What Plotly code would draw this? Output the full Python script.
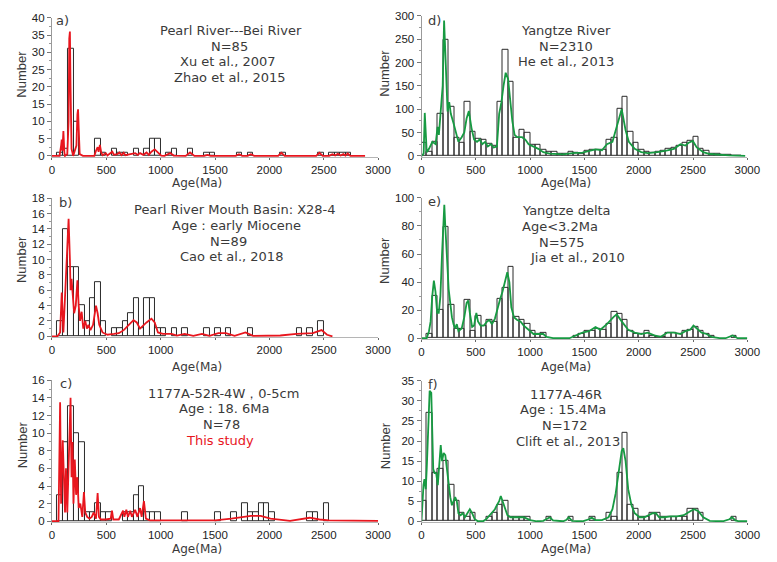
import plotly.graph_objects as go

W, H = 777, 562

# ---------------- histogram counts (50 Ma bins, value = bin left edge) ----------------
a_bins = [50, 100, 150, 200, 400, 450, 550, 600, 650, 750, 850, 900, 950, 1050, 1100,
          1250, 1400, 1450, 1700, 1800, 2100, 2450, 2550, 2600, 2650, 2700]
a_counts = [1, 2, 31, 10, 5, 1, 2, 1, 1, 2, 2, 5, 5, 1, 2, 2, 1, 1, 1, 1, 1, 1, 1, 1, 1, 1]

d_bins = [0, 50, 100, 150, 200, 250, 300, 350, 400, 450, 500, 550, 600, 650, 700, 750, 800,
          850, 900, 950, 1000, 1050, 1100, 1150, 1200, 1250, 1300, 1350, 1400, 1450, 1500,
          1550, 1600, 1650, 1700, 1750, 1800, 1850, 1900, 1950, 2000, 2050, 2100, 2150, 2200,
          2250, 2300, 2350, 2400, 2450, 2500, 2550, 2600, 2650, 2700, 2750, 2800, 2850, 2900]
d_counts = [27, 9, 30, 90, 249, 105, 39, 28, 115, 51, 36, 34, 26, 22, 115, 227, 159,
            39, 56, 50, 24, 24, 12, 8, 8, 5, 4, 8, 7, 5, 10,
            14, 14, 14, 34, 38, 101, 126, 52, 27, 13, 9, 7, 8, 10,
            15, 17, 22, 29, 33, 40, 15, 10, 5, 4, 3, 3, 1, 1]

b_bins = [50, 100, 150, 200, 250, 300, 350, 400, 450, 550, 600, 650, 700, 750, 800, 850, 900,
          950, 1000, 1100, 1200, 1400, 1500, 1600, 1800, 2250, 2350, 2450]
b_counts = [2, 14, 9, 9, 4, 2, 5, 7, 2, 1, 1, 2, 3, 5, 1, 5, 5, 1, 1, 1, 1, 1, 1, 1, 1, 1, 1, 2]

e_bins = [50, 100, 150, 200, 250, 300, 350, 400, 450, 500, 550, 600, 650, 700, 750, 800, 850,
          900, 950, 1000, 1050, 1100,
          1400, 1450, 1500, 1550, 1600, 1650, 1700, 1750, 1800, 1850, 1900, 1950, 2000, 2050,
          2100, 2150, 2200, 2250, 2300, 2350, 2400, 2450, 2500, 2550, 2600, 2650, 2850]
e_counts = [3, 30, 20, 79, 24, 7, 7, 27, 5, 16, 9, 13, 12, 28, 36, 51, 15,
            13, 10, 5, 3, 4,
            2, 3, 5, 5, 7, 6, 10, 19, 17, 13, 5, 3, 3, 5,
            2, 1, 1, 4, 4, 3, 5, 6, 8, 5, 3, 2, 2]

c_bins = [50, 100, 150, 200, 250, 300, 350, 400, 450, 500, 650, 700, 750, 800, 850, 900, 950,
          1200, 1500, 1650, 1750, 1800, 1850, 1900, 1950, 2000, 2350, 2400, 2500]
c_counts = [3, 9, 13, 10, 9, 1, 1, 2, 1, 1, 1, 1, 3, 4, 1, 1, 1,
            1, 1, 1, 2, 1, 1, 2, 2, 1, 1, 1, 2]

f_bins = [0, 50, 100, 150, 200, 250, 300, 350, 400, 450, 600, 650, 700, 750, 800, 850, 900, 950,
          1150, 1350, 1550, 1700, 1750, 1800, 1850, 1900, 1950, 2000, 2050, 2100, 2150, 2200,
          2250, 2300, 2350, 2400, 2450, 2500, 2550, 2850]
f_counts = [5, 27, 12, 13, 15, 9, 5, 2, 1, 2, 1, 2, 4, 5, 1, 1, 1, 1,
            1, 1, 1, 2, 1, 12, 22, 4, 3, 1, 1, 2, 2, 1,
            1, 1, 1, 1, 3, 3, 2, 1]

# ---------------- probability density curves (age Ma, scaled value) ----------------
a_density = [(0, 0), (70, 0), (84, 3), (90, 4.7), (96, 1.5), (105, 7.2), (114, 1), (120, 0),
             (141, 0.5), (153, 10), (159, 34), (165, 36), (171, 20), (174, 11), (180, 2),
             (195, 0), (225, 3), (234, 12), (240, 13.5), (246, 8), (255, 0.5), (285, 0),
             (390, 0), (405, 1.5), (420, 2.5), (429, 1.2), (441, 3.2), (453, 1), (465, 0.2),
             (495, 0.8), (510, 0.1), (555, 1.2), (570, 0.3), (600, 0.5), (621, 1), (639, 0.2),
             (660, 0.9), (675, 0.2), (765, 0.8), (789, 0.3), (810, 0.8), (840, 0.3), (870, 1),
             (891, 0.3), (915, 1.2), (945, 1.9), (975, 1), (1005, 0.1), (1035, 0), (1065, 0.5),
             (1089, 0.8), (1119, 0.1), (1230, 0), (1270, 1), (1310, 0), (1400, 0), (1430, 0.3),
             (1460, 0), (1690, 0), (1720, 0.5), (1750, 0), (1800, 0), (1830, 0.5), (1860, 0),
             (2080, 0), (2110, 0.9), (2140, 0), (2430, 0), (2460, 0.9), (2490, 0), (2550, 0),
             (2580, 0.5), (2605, 0.1), (2630, 0.6), (2655, 0.1), (2680, 0.5), (2700, 0.1),
             (2720, 0.7), (2745, 0), (2880, 0)]

d_density = [(0, 0), (20, 5), (30, 92), (40, 20), (48, 8), (69, 15), (100, 30), (130, 25),
             (148, 62), (160, 45), (172, 80), (195, 150), (208, 290), (222, 205), (240, 95),
             (255, 115), (270, 90), (295, 70), (320, 45), (340, 30), (370, 40), (394, 50),
             (415, 80), (436, 96), (460, 60), (484, 35), (511, 30), (535, 35), (560, 25),
             (586, 30), (610, 20), (640, 25), (664, 18), (694, 20), (715, 90), (736, 115),
             (755, 150), (775, 178), (797, 165), (815, 120), (836, 75), (857, 45), (881, 40),
             (926, 40), (956, 35), (986, 25), (1031, 20), (1076, 15), (1121, 8), (1181, 5),
             (1302, 3), (1392, 6), (1482, 7), (1542, 10), (1602, 14), (1662, 12), (1707, 25),
             (1758, 30), (1797, 65), (1843, 100), (1879, 55), (1909, 30), (1963, 15), (2023, 8),
             (2083, 6), (2173, 8), (2264, 12), (2324, 15), (2384, 25), (2429, 22), (2459, 28),
             (2498, 32), (2534, 18), (2594, 8), (2654, 4), (2744, 2), (2834, 1), (2980, 0)]

b_density = [(0, 0), (50, 0), (75, 0.5), (90, 5.7), (105, 0.5), (126, 8), (144, 13), (153, 15.3),
             (165, 10), (171, 6), (180, 7.5), (195, 5), (204, 3), (219, 4), (234, 7.3), (246, 4),
             (258, 2), (273, 3.2), (288, 1), (306, 2), (321, 1), (336, 1.5), (354, 0.8),
             (378, 1.5), (393, 3), (405, 4), (420, 3), (435, 1.5), (465, 0.5), (510, 0.2),
             (570, 0.3), (615, 0.4), (660, 0.8), (705, 1.5), (750, 2.1), (780, 1.8), (810, 1),
             (870, 1.8), (915, 2.3), (945, 1.8), (975, 0.5), (1020, 0.3), (1060, 0.3),
             (1100, 0.3), (1150, 0.1), (1220, 0.3), (1300, 0.05), (1380, 0.3), (1450, 0.05),
             (1530, 0.4), (1600, 0.4), (1680, 0.05), (1780, 0.5), (1850, 0.05), (2100, 0.1),
             (2250, 0.3), (2400, 0.4), (2480, 0.8), (2530, 0.2), (2580, 0)]

e_density = [(0, 0), (48, 0), (69, 5), (84, 12), (99, 30), (114, 41), (129, 33), (144, 18),
             (159, 18), (174, 30), (189, 60), (204, 85), (210, 95), (219, 80), (234, 55),
             (250, 35), (265, 25), (280, 15), (295, 10), (310, 7), (325, 10), (340, 5), (370, 7),
             (394, 15), (415, 25), (430, 27), (445, 18), (466, 8), (484, 9), (505, 18), (520, 12),
             (544, 9), (574, 9), (604, 12), (625, 13), (649, 10), (676, 14), (700, 22), (724, 28),
             (745, 33), (775, 43), (790, 47), (809, 40), (827, 22), (851, 15), (881, 13),
             (911, 12), (941, 9), (986, 6), (1031, 3), (1076, 3), (1121, 3), (1151, 1), (1211, 0),
             (1362, 0), (1422, 2), (1482, 4), (1542, 5), (1602, 8), (1647, 6), (1707, 10),
             (1767, 15), (1797, 17), (1843, 12), (1903, 6), (1963, 4), (2023, 3), (2083, 4),
             (2143, 2), (2203, 1), (2264, 4), (2324, 4), (2384, 3), (2429, 5), (2474, 6),
             (2504, 9), (2534, 7), (2579, 4), (2624, 3), (2669, 1), (2744, 0), (2800, 0),
             (2865, 2), (2910, 0), (3000, 0)]

c_density = [(0, 0), (60, 0), (75, 13.5), (84, 2), (99, 9.2), (111, 3), (120, 1), (129, 6),
             (141, 1), (150, 5), (162, 11), (171, 14), (180, 5), (189, 9), (198, 2), (210, 7),
             (222, 3), (234, 5), (246, 1.5), (261, 2), (279, 0.5), (294, 3.3), (306, 1),
             (324, 0.5), (345, 0.3), (366, 0.5), (384, 1), (405, 0.3), (420, 3.2), (432, 0.5),
             (450, 0.2), (495, 0.2), (540, 0.3), (552, 1.2), (564, 0.2), (615, 0.2), (654, 1.2),
             (666, 0.5), (684, 1.3), (699, 0.5), (720, 1.2), (735, 0.5), (765, 1.3), (786, 0.5),
             (810, 1.5), (825, 0.5), (846, 2.3), (864, 0.3), (900, 0.1), (990, 0.1), (1200, 0.1),
             (1350, 0.1), (1500, 0.1), (1650, 0.3), (1750, 0.5), (1830, 0.6), (1920, 0.6),
             (2010, 0.3), (2190, 0.05), (2370, 0.4), (2460, 0.2), (2550, 0.1), (3000, 0.05)]

f_density = [(0, 0), (9, 5), (18, 9), (27, 10.5), (39, 8), (48, 13), (63, 25), (75, 32.5),
             (90, 32), (99, 22), (108, 13), (120, 12), (135, 12), (150, 9), (165, 15), (177, 19),
             (189, 15), (204, 17), (219, 16.5), (234, 13), (250, 9), (265, 6), (280, 4), (295, 5),
             (310, 6), (325, 5), (340, 2), (361, 1.5), (379, 2), (400, 1), (424, 2), (445, 3),
             (466, 2), (490, 0.5), (520, 0), (565, 0), (595, 0.5), (625, 1.5), (655, 2.5),
             (676, 3), (694, 4), (715, 5), (730, 6.3), (745, 5), (767, 3), (791, 1.5), (821, 1),
             (881, 1), (941, 1), (1001, 0.3), (1061, 0), (1121, 0.1), (1151, 0.5), (1181, 1),
             (1211, 0.2), (1302, 0), (1332, 0.3), (1356, 1), (1386, 0.1), (1482, 0), (1542, 0.5),
             (1566, 0.9), (1602, 0.3), (1662, 0.3), (1722, 1), (1758, 3), (1788, 7), (1818, 13),
             (1843, 17.5), (1858, 18.2), (1879, 15), (1903, 8), (1933, 4), (1963, 2), (2008, 1),
             (2053, 1), (2098, 1.5), (2128, 2), (2158, 2), (2188, 1), (2233, 1), (2294, 1.2),
             (2354, 1.2), (2414, 1.5), (2474, 2.5), (2510, 3), (2549, 2.5), (2594, 1),
             (2654, 0.1), (2774, 0), (2835, 0.5), (2859, 1), (2889, 0.2), (2925, 0), (3000, 0)]

# ---------------- text blocks ----------------
a_text = ["Pearl River---Bei River", "N=85", "Xu et al., 2007", "Zhao et al., 2015"]
d_text = ["Yangtze River", "N=2310", "He et al., 2013"]
b_text = ["Pearl River Mouth Basin: X28-4", "Age：early Miocene", "N=89", "Cao et al., 2018"]
e_text = ["Yangtze delta", "Age<3.2Ma", "N=575", "Jia et al., 2010"]
c_text = ["1177A-52R-4W，0-5cm", "Age：18. 6Ma", "N=78", "This study"]
f_text = ["1177A-46R", "Age：15.4Ma", "N=172", "Clift et al., 2013"]

age_ticks = [0, 500, 1000, 1500, 2000, 2500, 3000]

RED = "#e8161e"
GREEN = "#179a42"
BAR_EDGE = "#2b2b2b"
TXT = "#3a3a3a"
TICK_FONT = dict(family="Liberation Sans Narrow, Arial Narrow, Liberation Sans, Arial", size=11.5, color="#222")
LABEL_FONT = "DejaVu Sans, Verdana, sans-serif"


def px(x, y):
    """pixel position -> paper coordinates"""
    return x / W, 1 - y / H


# panel geometry in pixels: (left, right, top, bottom)
LEFT_X = (50, 383)
RIGHT_X = (427.3, 760)
panels = [
    dict(key="a", bins=a_bins, counts=a_counts, dens=a_density, color=RED, ymax=40, dtick=5,
         xpx=LEFT_X, ypx=(12, 154), text=a_text, tx=[233, 231, 230, 231], ty=25, lab=(61, 15),
         hide=[]),
    dict(key="d", bins=d_bins, counts=d_counts, dens=d_density, color=GREEN, ymax=300, dtick=50,
         xpx=RIGHT_X, ypx=(10, 154), text=d_text, tx=[575, 575, 575], ty=25, lab=(441, 15),
         hide=[]),
    dict(key="b", bins=b_bins, counts=b_counts, dens=b_density, color=RED, ymax=18, dtick=2,
         xpx=LEFT_X, ypx=(196, 338), text=b_text, tx=[237, 238, 230, 233], ty=208, lab=(64, 200),
         hide=[1500]),
    dict(key="e", bins=e_bins, counts=e_counts, dens=e_density, color=GREEN, ymax=100, dtick=20,
         xpx=RIGHT_X, ypx=(195.7, 340), text=e_text, tx=[575, 569, 570, 587], ty=209, lab=(441, 199),
         hide=[]),
    dict(key="c", bins=c_bins, counts=c_counts, dens=c_density, color=RED, ymax=16, dtick=2,
         xpx=LEFT_X, ypx=(381.7, 526.7), text=c_text, tx=[225, 226, 223, 222], ty=395, lab=(64, 385),
         hide=[]),
    dict(key="f", bins=f_bins, counts=f_counts, dens=f_density, color=GREEN, ymax=35, dtick=5,
         xpx=RIGHT_X, ypx=(382.3, 526.7), text=f_text, tx=[575, 572, 573, 577], ty=396, lab=(439, 386),
         hide=[]),
]

fig = go.Figure()
layout = dict(
    width=W, height=H, margin=dict(l=0, r=0, t=0, b=0),
    paper_bgcolor="white", plot_bgcolor="rgba(0,0,0,0)",
    showlegend=False, annotations=[],
)

for i, p in enumerate(panels, start=1):
    xa, ya = f"x{i}", f"y{i}"
    # outlined histogram bars
    fig.add_trace(go.Bar(
        x=[b + 25 for b in p["bins"]], y=p["counts"], width=50,
        marker=dict(color="rgba(255,255,255,0)", line=dict(color=BAR_EDGE, width=1)),
        xaxis=xa, yaxis=ya, hoverinfo="skip",
    ))
    # probability density curve
    ages = [t[0] for t in p["dens"]]
    vals = [t[1] for t in p["dens"]]
    fig.add_trace(go.Scatter(
        x=ages, y=vals, mode="lines",
        line=dict(color=p["color"], width=1.8),
        xaxis=xa, yaxis=ya, hoverinfo="skip",
    ))

    x0, x1 = p["xpx"]
    yt, yb = p["ypx"]
    xdom = [x0 / W, x1 / W]
    ydom = [1 - yb / H, 1 - yt / H]
    sfx = "" if i == 1 else str(i)
    layout["xaxis" + sfx] = dict(
        domain=xdom, anchor=ya, range=[0, 3000],
        tickvals=age_ticks,
        ticktext=["" if v in p["hide"] else str(v) for v in age_ticks],
        ticks="outside", ticklen=2, tickcolor="#666", tickwidth=1,
        showline=True, linecolor="#b5b5b5", linewidth=1,
        showgrid=False, zeroline=False, tickfont=TICK_FONT, fixedrange=True,
    )
    ymax = p["ymax"]
    layout["yaxis" + sfx] = dict(
        domain=ydom, anchor=xa, range=[-ymax * 0.008, ymax],
        tick0=0, dtick=p["dtick"],
        ticks="outside", ticklen=4, tickcolor="#777", tickwidth=1,
        minor=dict(ticks="outside", ticklen=2, dtick=p["dtick"] / 2, tickcolor="#999"),
        showline=True, linecolor="#9a9a9a", linewidth=1,
        showgrid=False, zeroline=False, tickfont=TICK_FONT, fixedrange=True,
    )

    # panel label
    lx, ly = px(*p["lab"])
    layout["annotations"].append(dict(
        x=lx, y=ly, xref="paper", yref="paper", text=p["key"] + ")", showarrow=False,
        xanchor="center", yanchor="middle",
        font=dict(family=LABEL_FONT, size=13, color=TXT)))

    # descriptive text lines
    for k, line in enumerate(p["text"]):
        cx, cy = px(p["tx"][k], p["ty"] + 16 * k)
        color = RED if line == "This study" else TXT
        layout["annotations"].append(dict(
            x=cx, y=cy, xref="paper", yref="paper", text=line, showarrow=False,
            xanchor="center", yanchor="middle",
            font=dict(family=LABEL_FONT, size=13, color=color)))

    # axis titles
    left = x0 < 100
    nx = 19.5 if left else 390
    ny = {1: 70, 2: 68, 3: 259, 4: 259, 5: 448, 6: 448}[i]
    tx_, ty_ = px(nx, ny)
    layout["annotations"].append(dict(
        x=tx_, y=ty_, xref="paper", yref="paper", text="Number", textangle=-90,
        showarrow=False, xanchor="center", yanchor="middle",
        font=dict(family="Liberation Sans, Arial, sans-serif", size=13, color=TXT)))
    agx = 198 if left else 575
    agy = {1: 181, 2: 181, 3: 368, 4: 368, 5: 554, 6: 554}[i]
    ax_, ay_ = px(agx, agy)
    layout["annotations"].append(dict(
        x=ax_, y=ay_, xref="paper", yref="paper", text="Age(Ma)",
        showarrow=False, xanchor="center", yanchor="middle",
        font=dict(family=LABEL_FONT, size=12, color=TXT)))

layout["bargap"] = 0
layout["barmode"] = "overlay"
fig.update_layout(**layout)

fig.write_html("out.html")
